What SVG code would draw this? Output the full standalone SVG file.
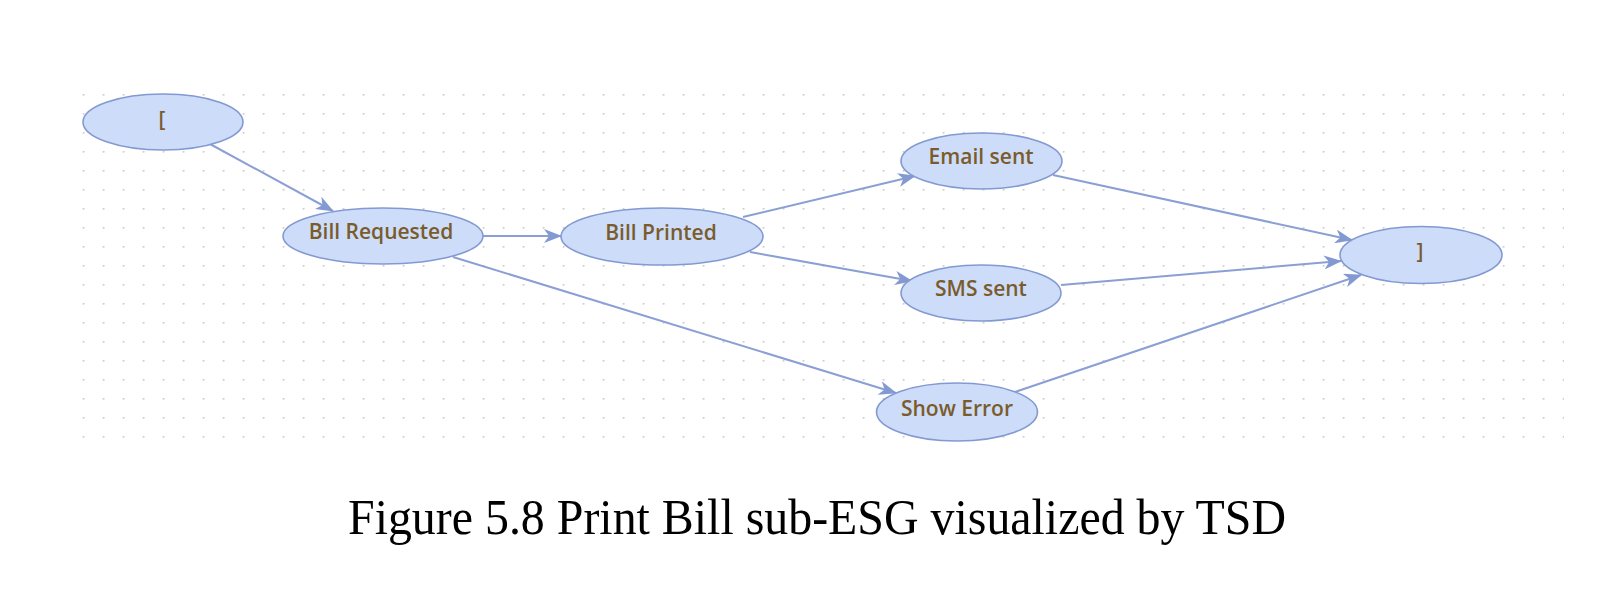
<svg xmlns="http://www.w3.org/2000/svg" width="1604" height="602" viewBox="0 0 1604 602">
<style>
.node ellipse{fill:#cddcf9;stroke:#8399d1;stroke-width:1.6}
.node text{font-family:"Open Sans","DejaVu Sans",sans-serif;font-weight:600;font-size:21px;fill:#7a5c2c;text-anchor:middle}
.edge{stroke:#8a9fd4;stroke-width:2;fill:none;marker-end:url(#arr)}
.caption{font-family:"Liberation Serif","Times New Roman",serif;font-size:51px;fill:#000}
</style>
<defs>
<pattern id="dots" x="82.7" y="94" width="20" height="19" patternUnits="userSpaceOnUse">
<circle cx="0.8" cy="0.8" r="1" fill="#c9c9c9"/>
</pattern>
<marker id="arr" viewBox="0 0 18 14" refX="17" refY="7" markerWidth="18" markerHeight="14" markerUnits="userSpaceOnUse" orient="auto">
<path d="M0,0 L18,7 L0,14 L5,7 z" fill="#8399d1"/>
</marker>
</defs>
<rect x="80" y="91" width="1484" height="348" fill="url(#dots)"/>
<g id="connectors">
<line class="edge" x1="210" y1="144" x2="333" y2="211"/>
<line class="edge" x1="483" y1="236" x2="561" y2="236"/>
<line class="edge" x1="743" y1="217" x2="915" y2="176"/>
<line class="edge" x1="750" y1="252" x2="912" y2="281"/>
<line class="edge" x1="453" y1="257" x2="896" y2="393"/>
<line class="edge" x1="1053" y1="175" x2="1352" y2="240"/>
<line class="edge" x1="1061" y1="285" x2="1341" y2="261"/>
<line class="edge" x1="1015" y1="392" x2="1361" y2="275"/>
</g>
<g id="start" class="node"><ellipse cx="163" cy="122" rx="80" ry="28"/><text x="162" y="127">[</text></g>
<g id="bill-requested" class="node"><ellipse cx="383" cy="236" rx="100" ry="28"/><text x="381" y="238.5">Bill Requested</text></g>
<g id="bill-printed" class="node"><ellipse cx="662" cy="236.5" rx="101" ry="28.5"/><text x="661" y="239.5">Bill Printed</text></g>
<g id="email-sent" class="node"><ellipse cx="981.5" cy="161" rx="80.5" ry="28"/><text x="981" y="163.5">Email sent</text></g>
<g id="sms-sent" class="node"><ellipse cx="981" cy="293" rx="80" ry="28"/><text x="981" y="296">SMS sent</text></g>
<g id="show-error" class="node"><ellipse cx="957" cy="412" rx="80.5" ry="29"/><text x="957" y="416">Show Error</text></g>
<g id="end" class="node"><ellipse cx="1421" cy="255" rx="81" ry="28.5"/><text x="1420" y="259">]</text></g>
<text class="caption" x="348" y="534" textLength="938" lengthAdjust="spacingAndGlyphs">Figure 5.8 Print Bill sub-ESG visualized by TSD</text>
</svg>
